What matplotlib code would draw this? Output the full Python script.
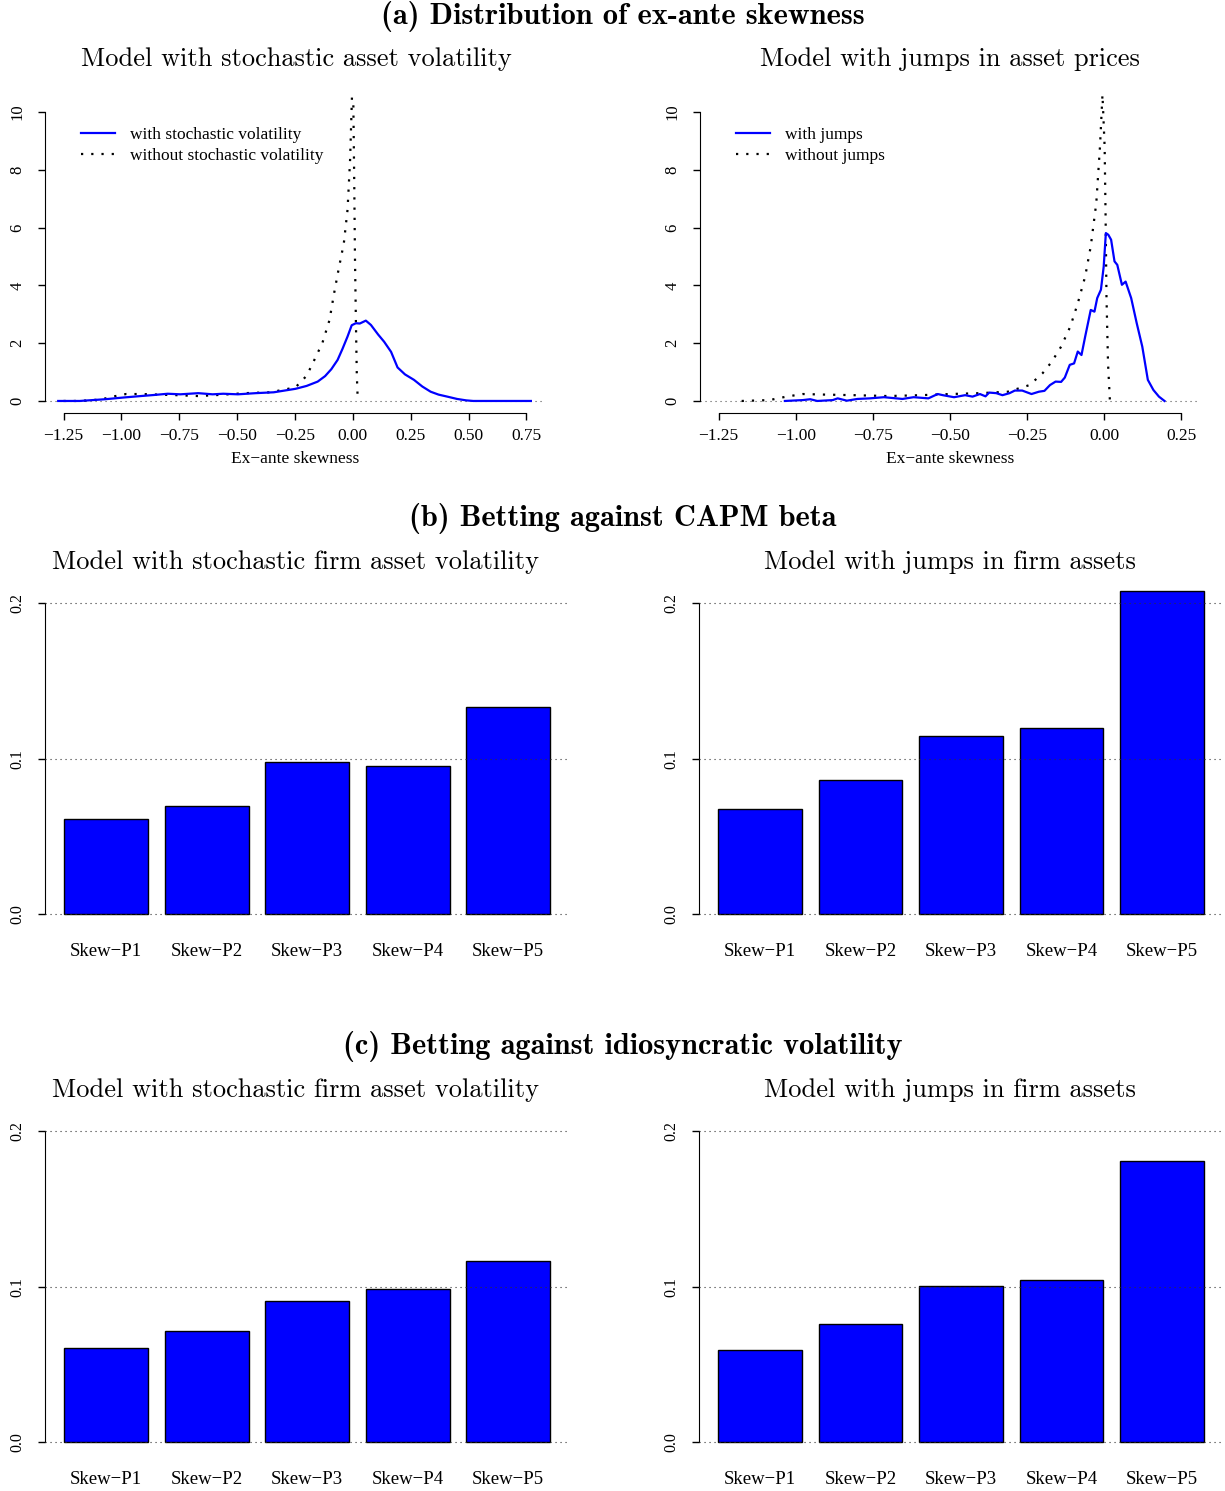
import numpy as np
import matplotlib
matplotlib.use("Agg")
import matplotlib.pyplot as plt
from matplotlib.font_manager import FontProperties

# ---------------- data ----------------
# Panel (a) left: densities of ex-ante skewness
x_sv = [-1.273, -1.18, -1.07, -0.99, -0.916, -0.854, -0.80, -0.745, -0.668, -0.606, -0.56, -0.497,
        -0.42, -0.342, -0.248, -0.20, -0.152, -0.12, -0.093, -0.066, -0.045, -0.023, -0.005, 0.013,
        0.03, 0.056, 0.078, 0.109, 0.135, 0.165, 0.193, 0.225, 0.264, 0.30, 0.336, 0.37, 0.408,
        0.45, 0.49, 0.52, 0.769]
y_sv = [0.0, 0.0, 0.06, 0.12, 0.17, 0.21, 0.25, 0.23, 0.27, 0.23, 0.25, 0.23,
        0.27, 0.30, 0.42, 0.52, 0.67, 0.86, 1.10, 1.42, 1.80, 2.23, 2.62, 2.69,
        2.68, 2.78, 2.63, 2.30, 2.05, 1.70, 1.16, 0.92, 0.73, 0.50, 0.32, 0.22, 0.15,
        0.07, 0.02, 0.0, 0.0]
x_nsv = [-1.25, -1.18, -1.09, -1.025, -0.98, -0.916, -0.84, -0.76, -0.668, -0.575, -0.466, -0.357,
         -0.248, -0.20, -0.17, -0.132, -0.101, -0.081, -0.062, -0.039, -0.023, -0.012, -0.004,
         0.002, 0.006, 0.009, 0.013, 0.017, 0.021]
y_nsv = [0.0, 0.0, 0.05, 0.17, 0.24, 0.24, 0.22, 0.20, 0.17, 0.21, 0.27, 0.30,
         0.47, 0.87, 1.36, 2.0, 2.8, 3.73, 4.54, 5.46, 6.62, 8.35, 10.5,
         10.3, 7.5, 5.0, 2.8, 0.9, 0.05]

# Panel (a) right
x_jmp = [-1.035, -0.977, -0.953, -0.93, -0.88, -0.864, -0.834, -0.80, -0.76, -0.714, -0.654, -0.618,
         -0.57, -0.54, -0.523, -0.487, -0.451, -0.427, -0.403, -0.385, -0.373, -0.35, -0.33, -0.307,
         -0.29, -0.266, -0.236, -0.212, -0.194, -0.176, -0.158, -0.14, -0.128, -0.112, -0.098, -0.086,
         -0.074, -0.062, -0.044, -0.032, -0.023, -0.011, -0.002, 0.005, 0.013, 0.022, 0.033, 0.042,
         0.057, 0.069, 0.087, 0.105, 0.123, 0.141, 0.159, 0.177, 0.195]
y_jmp = [0.0, 0.03, 0.06, 0.0, 0.03, 0.09, 0.01, 0.07, 0.09, 0.13, 0.07, 0.13,
         0.09, 0.24, 0.20, 0.13, 0.20, 0.15, 0.24, 0.16, 0.29, 0.27, 0.20, 0.27,
         0.36, 0.36, 0.24, 0.32, 0.35, 0.55, 0.67, 0.66, 0.81, 1.25, 1.30, 1.71,
         1.59, 2.23, 3.15, 3.09, 3.56, 3.85, 4.65, 5.81, 5.75, 5.58, 4.83, 4.71,
         4.02, 4.13, 3.56, 2.69, 1.88, 0.73, 0.38, 0.15, 0.0]
x_njmp = [-1.175, -1.085, -1.03, -0.977, -0.905, -0.81, -0.702, -0.594, -0.50, -0.403, -0.313,
          -0.242, -0.20, -0.17, -0.14, -0.11, -0.086, -0.062, -0.044, -0.026, -0.014, -0.006,
          0.001, 0.004, 0.007, 0.012, 0.018]
y_njmp = [0.0, 0.03, 0.15, 0.24, 0.22, 0.20, 0.17, 0.20, 0.24, 0.27, 0.32,
          0.55, 0.96, 1.36, 1.88, 2.58, 3.38, 4.31, 5.35, 6.85, 8.81, 10.6,
          8.8, 6.5, 3.61, 1.3, 0.03]

# Panels (b) and (c): bar heights
categories = ["Skew\u2212P1", "Skew\u2212P2", "Skew\u2212P3", "Skew\u2212P4", "Skew\u2212P5"]
bab_sv = [0.0610, 0.0697, 0.0977, 0.0955, 0.1331]
bab_jump = [0.0678, 0.0863, 0.1146, 0.1198, 0.2080]
biv_sv = [0.0604, 0.0717, 0.0907, 0.0983, 0.1166]
biv_jump = [0.0595, 0.0758, 0.1006, 0.1044, 0.1809]

dens_xticks_left = [-1.25, -1.0, -0.75, -0.5, -0.25, 0.0, 0.25, 0.5, 0.75]
dens_xticks_right = [-1.25, -1.0, -0.75, -0.5, -0.25, 0.0, 0.25]
dens_yticks = [0, 2, 4, 6, 8, 10]
bar_yticks = [0.0, 0.1, 0.2]

# ---------------- figure ----------------
W, H = 1225, 1491
fig = plt.figure(figsize=(W / 100, H / 100), dpi=100)

TICKFONT = "Liberation Serif"
BLUE = "#0000FF"


def add_ax(left, top, right, bottom):
    return fig.add_axes([left / W, 1 - bottom / H, (right - left) / W, (bottom - top) / H])


def fmt_tick(v):
    s = "%.2f" % abs(v)
    return ("\u2212" if v < 0 else "") + s


def density_panel(ax, xlim, xticks, xw, yw, xn, yn, labels):
    ax.set_xlim(*xlim)
    ax.set_ylim(-0.42, 10.92)
    ax.axhline(0, color="#555555", lw=0.8, ls=(0, (1, 3.5)), zorder=1)
    l1, = ax.plot(xn, yn, color="black", lw=1.6, ls=(0, (1, 3.6)), zorder=2, label=labels[1])
    l2, = ax.plot(xw, yw, color=BLUE, lw=1.6, zorder=3, label=labels[0])
    for s in ["top", "right"]:
        ax.spines[s].set_visible(False)
    ax.spines["left"].set_bounds(0, 10)
    ax.spines["bottom"].set_bounds(xticks[0], xticks[-1])
    ax.set_xticks(xticks)
    ax.set_xticklabels([fmt_tick(v) for v in xticks], fontfamily=TICKFONT, fontsize=12.5)
    ax.set_yticks(dens_yticks)
    ax.set_yticklabels([str(v) for v in dens_yticks], fontfamily=TICKFONT, fontsize=12,
                       rotation=90, va="center")
    ax.tick_params(axis="both", length=5, width=1, direction="out")
    ax.tick_params(axis="x", pad=6)
    ax.tick_params(axis="y", pad=9)
    ax.set_xlabel("Ex\u2212ante skewness", fontfamily=TICKFONT, fontsize=12.5, labelpad=4.5)
    ax.legend(handles=[l2, l1], loc="upper left", bbox_to_anchor=(0.072, 0.874),
              frameon=False, borderpad=0, borderaxespad=0, handlelength=1.95,
              handletextpad=0.85, labelspacing=0.3,
              prop=FontProperties(family=TICKFONT, size=12.5))


def bar_panel(ax, values):
    pos = 0.7 + 1.2 * np.arange(len(categories))
    ax.set_xlim(-0.032, 6.232)
    ax.set_ylim(-0.008, 0.208)
    ax.bar(pos, values, width=1.0, color=BLUE, edgecolor="black", linewidth=1.0,
           zorder=2, clip_on=False)
    for yv in bar_yticks:
        ax.axhline(yv, color="#333333", lw=0.8, ls=(0, (1, 3.5)), zorder=3)
    for s in ["top", "right", "bottom"]:
        ax.spines[s].set_visible(False)
    ax.spines["left"].set_bounds(0, 0.2)
    ax.set_xticks(pos)
    ax.set_xticklabels(categories, fontfamily=TICKFONT, fontsize=13.5)
    ax.tick_params(axis="x", length=0, pad=12)
    ax.set_yticks(bar_yticks)
    ax.set_yticklabels(["%.1f" % v for v in bar_yticks], fontfamily=TICKFONT, fontsize=11.5,
                       rotation=90, va="center")
    ax.tick_params(axis="y", length=5, width=1, direction="out", pad=9)


# Panel (a)
axA1 = add_ax(45, 85.4, 545, 413.1)
density_panel(axA1, (-1.33, 0.83), dens_xticks_left, x_sv, y_sv, x_nsv, y_nsv,
              ["with stochastic volatility", "without stochastic volatility"])
axA2 = add_ax(700, 85.4, 1200, 413.1)
density_panel(axA2, (-1.31, 0.31), dens_xticks_right, x_jmp, y_jmp, x_njmp, y_njmp,
              ["with jumps", "without jumps"])

# Panel (b)
axB1 = add_ax(45, 590.9, 569.5, 926.4)
bar_panel(axB1, bab_sv)
axB2 = add_ax(698.6, 590.9, 1223.4, 926.4)
bar_panel(axB2, bab_jump)

# Panel (c)
axC1 = add_ax(45, 1118.5, 569.5, 1454.8)
bar_panel(axC1, biv_sv)
axC2 = add_ax(698.6, 1118.5, 1223.4, 1454.8)
bar_panel(axC2, biv_jump)

# Titles
TITLE_SIZE = 21.9
SUB_SIZE = 19


def ftext(x, y, s, fam, size):
    fig.text(x / W, 1 - y / H, s, ha="center", va="center", fontfamily=fam, fontsize=size)


ftext(623, 16, "(a) Distribution of ex-ante skewness", "cmb10", TITLE_SIZE)
ftext(296, 59, "Model with stochastic asset volatility", "cmr10", SUB_SIZE)
ftext(950, 59, "Model with jumps in asset prices", "cmr10", SUB_SIZE)

ftext(623, 519, "(b) Betting against CAPM beta", "cmb10", TITLE_SIZE)
ftext(296, 562, "Model with stochastic firm asset volatility", "cmr10", SUB_SIZE)
ftext(950, 562, "Model with jumps in firm assets", "cmr10", SUB_SIZE)

ftext(623, 1047, "(c) Betting against idiosyncratic volatility", "cmb10", TITLE_SIZE)
ftext(296, 1090, "Model with stochastic firm asset volatility", "cmr10", SUB_SIZE)
ftext(950, 1090, "Model with jumps in firm assets", "cmr10", SUB_SIZE)

fig.savefig("out.png", dpi=100)
